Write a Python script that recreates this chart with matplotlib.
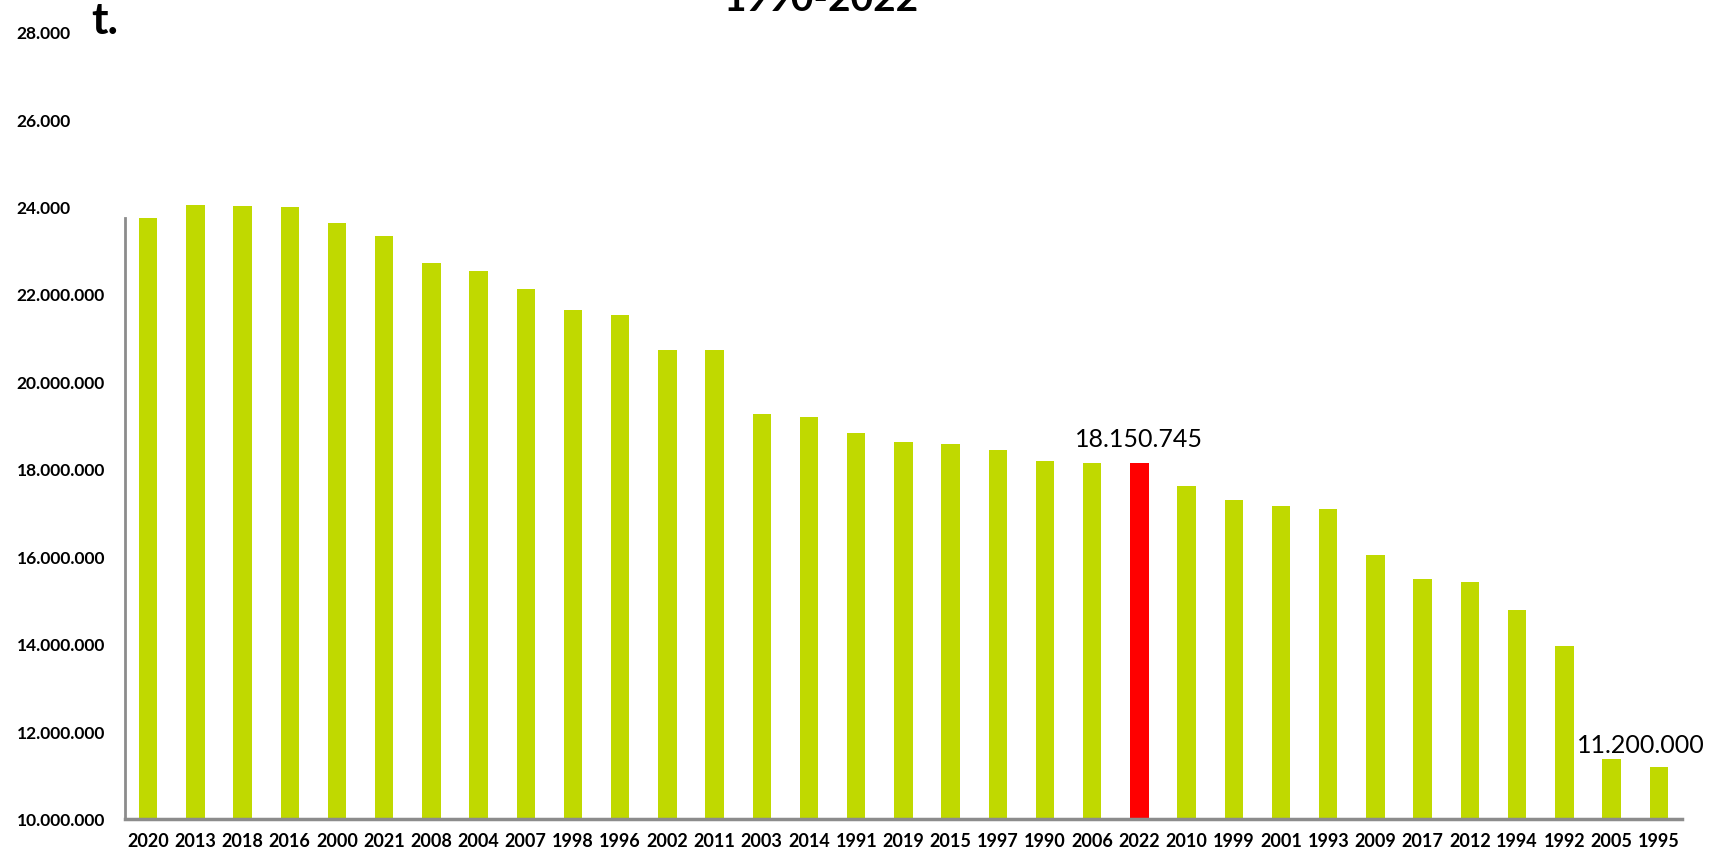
import matplotlib
matplotlib.use('Agg')
import matplotlib.pyplot as plt
import numpy as np

years = ['2020', '2013', '2018', '2016', '2000', '2021', '2008', '2004', '2007', '1998',
         '1996', '2002', '2011', '2003', '2014', '1991', '2019', '2015', '1997', '1990',
         '2006', '2022', '2010', '1999', '2001', '1993', '2009', '2017', '2012', '1994',
         '1992', '2005', '1995']
# tonnes
values = [23750000, 24050000, 24030000, 24000000, 23650000, 23350000, 22730000, 22550000,
          22130000, 21650000, 21550000, 20750000, 20730000, 19280000, 19200000, 18850000,
          18630000, 18580000, 18450000, 18200000, 18160000, 18150745, 17640000, 17300000,
          17180000, 17100000, 16040000, 15510000, 15440000, 14790000, 13980000, 11380000,
          11200000]
highlight_year = '2022'
labelled = {'2022': '18.150.745', '1995': '11.200.000'}

ytick_vals = [10e6, 12e6, 14e6, 16e6, 18e6, 20e6, 22e6, 24e6, 26e6, 28e6]
ytick_labels = ['10.000.000', '12.000.000', '14.000.000', '16.000.000', '18.000.000',
                '20.000.000', '22.000.000', '24.000', '26.000', '28.000']

green = '#C0D900'
red = '#FF0000'
grey = '#8C8C8C'
fam = ['Lato', 'DejaVu Sans']

fig = plt.figure(figsize=(17.17, 8.59), dpi=100)
ax = fig.add_axes([0.0728, 0.046, 0.907, 0.916])

x = np.arange(len(years))
colors = [red if y == highlight_year else green for y in years]
ax.bar(x, values, width=0.39, color=colors, zorder=2)

# the last label is pushed left so it stays inside the figure
offsets = {'2022': (0, 9), '1995': (-13, 7)}
for i, (y, v) in enumerate(zip(years, values)):
    if y in labelled:
        ax.annotate(labelled[y], (i, v), xytext=offsets[y], textcoords='offset points',
                    ha='center', va='bottom', fontsize=18, family=fam)

ax.set_xlim(-0.49, len(years) - 0.5)
ax.set_ylim(10e6, 28e6)
ax.set_xticks(x)
ax.set_xticklabels(years, fontsize=13, fontweight='bold', family=fam)
ax.set_yticks(ytick_vals)
ax.set_yticklabels(ytick_labels, fontsize=12.5, fontweight='bold', family=fam, ha='left')
ax.tick_params(axis='both', length=0)
ax.tick_params(axis='x', pad=10)
ax.tick_params(axis='y', pad=78)

for s in ['top', 'right']:
    ax.spines[s].set_visible(False)
ax.spines['left'].set_color(grey)
ax.spines['left'].set_linewidth(2)
ax.spines['left'].set_bounds(10e6, 23.75e6)
ax.spines['bottom'].set_color(grey)
ax.spines['bottom'].set_linewidth(2.5)

fig.text(0.478, 0.987, '1990-2022', ha='center', va='baseline', fontsize=28,
         fontweight='bold', family=fam)
fig.text(0.053, 0.961, 't.', ha='left', va='baseline', fontsize=32,
         fontweight='bold', family=fam)

fig.savefig('out.png', dpi=100)
